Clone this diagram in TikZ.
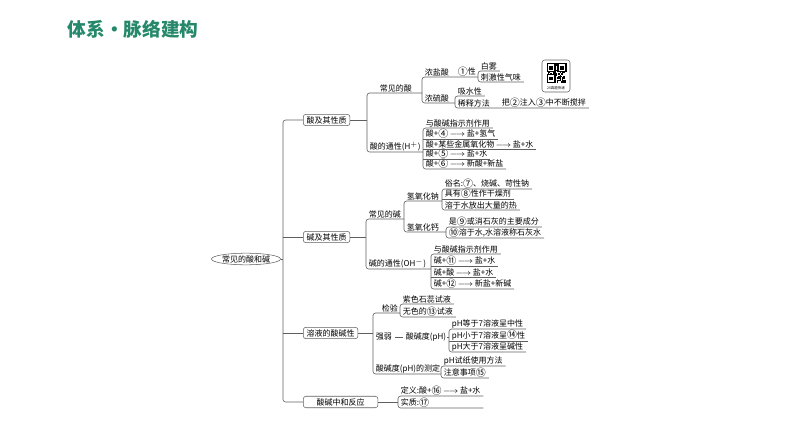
\documentclass[tikz,border=0pt]{standalone}
\usepackage{fontspec}
\setmainfont{Noto Sans CJK SC}
\usetikzlibrary{shapes.geometric,positioning,calc}
\definecolor{titlegreen}{RGB}{38,136,106}
\definecolor{linegray}{RGB}{95,95,95}
\newcommand{\cnum}[1]{\raisebox{-0.12ex}{\scalebox{1.25}{#1}}}

\begin{document}
\begin{tikzpicture}[x=0.75pt, y=-0.75pt,
    topic/.style={draw=linegray, rounded corners=2pt, anchor=west, inner xsep=2.5pt, inner ysep=1.5pt, font=\fontsize{6}{7}\selectfont},
    item/.style={anchor=south west, inner xsep=2pt, inner ysep=0.5pt, font=\fontsize{6}{7}\selectfont},
    link/.style={draw=linegray, line width=0.45pt},
    brace/.style={link, rounded corners=2pt}
]
\useasboundingbox (0,0) rectangle (794,447);

% Title
\node[font=\bfseries\fontsize{14}{16}\selectfont, text=titlegreen, anchor=west] (title) at (63,29) {体系·脉络建构};

% Root and trunk
\node[draw=linegray, ellipse, inner sep=0.3pt, font=\fontsize{6}{7}\selectfont] (root) at (246,259) {常见的酸和碱};
\coordinate (trunk) at (283,259);

% Level one topics
\node[topic] (acid) at (303,120) {酸及其性质};
\node[topic] (base) at (303,237) {碱及其性质};
\node[topic] (sol) at (303,333) {溶液的酸碱性};
\node[topic, minimum width=56pt] (neut) at (303,402) {酸碱中和反应};

\draw[brace] (acid.west) -| (trunk) |- (neut.west);
\draw[link] (root.east) -- (trunk);
\draw[link] (base.west) -- (base.west -| trunk);
\draw[link] (sol.west) -- (sol.west -| trunk);

% Bracket positions
\coordinate (bAcid) at (367,0);
\coordinate (bAcidCom) at (422,0);
\coordinate (bHCl) at (478,0);
\coordinate (bH2SO4) at (455,0);
\coordinate (bAcidGen) at (423,0);
\coordinate (bBase) at (366,0);
\coordinate (bBaseCom) at (404,0);
\coordinate (bNaOH) at (442,0);
\coordinate (bCaOH) at (446,0);
\coordinate (bBaseGen) at (431,0);
\coordinate (bSol) at (373,0);
\coordinate (bTest) at (400,0);
\coordinate (bPH) at (447,0);
\coordinate (bMeas) at (441,0);
\coordinate (bNeut) at (398,0);

% Acids
\node[item] (acidcom) at (377,93) {常见的酸};
\node[item] (acidgen) at (367,152) {酸的通性(H$^{+}$)};
\draw[link] (acid.east) -- (acid.east -| bAcid);
\draw[brace] (acidcom.south west -| bAcidCom) -- (acidcom.south west -| bAcid) -- (acidgen.south west) -- (acidgen.south west -| bAcidGen);

% Common acids
\node[item] (hcl) at (422,77) {浓盐酸};
\node[item] (hclprop) at (455,77) {\cnum{①}性};
\node[item] (h2so4) at (422,103) {浓硫酸};
\draw[brace] (hclprop.south east -| bHCl) -- (hcl.south west) -- (h2so4.south west) -- (h2so4.south west -| bH2SO4);

\node[item] (mist) at (478,71) {白雾};
\node[item] (smell) at (478,82) {刺激性气味};
\draw[brace] (mist.south east) -- (mist.south west) -- (smell.south west) -- (smell.south east);

\node[item] (absorb) at (455,96) {吸水性};
\node[item] (dilute) at (455,108) {稀释方法};
\node[item] (diluteway) at (499,108) {把\cnum{②}注入\cnum{③}中不断搅拌};
\draw[brace] (absorb.south east) -- (absorb.south west) -- (dilute.south west) -- (diluteway.south east);

% QR code
\node[draw=linegray, rounded corners=2pt, minimum width=21pt, minimum height=24pt, inner sep=0pt] (qr) at (556,76) {};
\pgfmathsetseed{12}
\foreach \i in {0,...,14}{
  \foreach \j in {0,...,14}{
    \pgfmathsetmacro{\qrbit}{rnd}
    \ifdim\qrbit pt>0.5pt \fill (546.5+\i*1.3,63+\j*1.3) rectangle ++(1.3,1.3); \fi
  }
}
\foreach \cx/\cy in {546.5/63, 557.4/63, 546.5/73.9}{
  \fill (\cx,\cy) rectangle ++(9.1,9.1);
  \fill[white] (\cx+1.3,\cy+1.3) rectangle ++(6.5,6.5);
  \fill (\cx+2.6,\cy+2.6) rectangle ++(3.9,3.9);
}
\node[font=\fontsize{2.6}{3}\selectfont, inner sep=0pt] (qrlabel) at (556,88) {25真题快递};

% Acid general properties
\node[item] (aind) at (423,128) {与酸碱指示剂作用};
\node[item] (ametal) at (423,139) {酸+\cnum{④}\,$\longrightarrow$\,盐+氢气};
\node[item] (aoxide) at (423,149) {酸+某些金属氧化物\,$\longrightarrow$\,盐+水};
\node[item] (abase) at (423,159) {酸+\cnum{⑤}\,$\longrightarrow$\,盐+水};
\node[item] (asalt) at (423,169) {酸+\cnum{⑥}\,$\longrightarrow$\,新酸+新盐};
\draw[brace] (aind.south east) -- (aind.south west) -- (asalt.south west) -- (asalt.south east);
\draw[link] (ametal.south west) -- (ametal.south east);
\draw[link] (aoxide.south west) -- (aoxide.south east);
\draw[link] (abase.south west) -- (abase.south east);

% Bases
\node[item] (basecom) at (366,219) {常见的碱};
\node[item] (basegen) at (366,269) {碱的通性(OH$^{-}$)};
\draw[link] (base.east) -- (base.east -| bBase);
\draw[brace] (basecom.south west -| bBaseCom) -- (basecom.south west) -- (basegen.south west) -- (basegen.south west -| bBaseGen);

% Common bases
\node[item] (naoh) at (404,201) {氢氧化钠};
\node[item] (caoh) at (404,232) {氢氧化钙};
\draw[brace] (naoh.south west -| bNaOH) -- (naoh.south west) -- (caoh.south west) -- (caoh.south west -| bCaOH);

\node[item] (naname) at (442,189) {俗名:\cnum{⑦}、烧碱、苛性钠};
\node[item] (nadry) at (442,199) {具有\cnum{⑧}性作干燥剂};
\node[item] (naheat) at (442,210) {溶于水放出大量的热};
\draw[brace] (naname.south east) -- (naname.south west) -- (naheat.south west) -- (naheat.south east);
\draw[link] (nadry.south west) -- (nadry.south east);

\node[item] (caname) at (446,227) {是\cnum{⑨}或消石灰的主要成分};
\node[item] (casol) at (446,238) {\cnum{⑩}溶于水,水溶液称石灰水};
\draw[brace] (caname.south east) -- (caname.south west) -- (casol.south west) -- (casol.south east);

% Base general properties
\node[item] (bind) at (431,254) {与酸碱指示剂作用};
\node[item] (boxide) at (431,266) {碱+\cnum{⑪}\,$\longrightarrow$\,盐+水};
\node[item] (bacid) at (431,277) {碱+酸\,$\longrightarrow$\,盐+水};
\node[item] (bsalt) at (431,289) {碱+\cnum{⑫}\,$\longrightarrow$\,新盐+新碱};
\draw[brace] (bind.south east) -- (bind.south west) -- (bsalt.south west) -- (bsalt.south east);
\draw[link] (boxide.south west) -- (boxide.south east);
\draw[link] (bacid.south west) -- (bacid.south east);

% Acidity of solutions
\node[item] (test) at (379,313) {检验};
\node[item, anchor=west] (strength) at (373,337) {强弱};
\node[item, anchor=west] (acidity) at (403,337) {酸碱度(pH)};
\node[item] (meas) at (373,374) {酸碱度(pH)的测定};
\draw[link] (sol.east) -- (sol.east -| bSol);
\draw[brace] (test.south west -| bTest) -- (test.south west -| bSol) -- (meas.south west) -- (meas.south west -| bMeas);
\draw[link] (strength.east) -- (acidity.west);
\draw[link] (acidity.east) -- (acidity.east -| bPH);

\node[item] (litmus) at (400,304) {紫色石蕊试液};
\node[item] (phenol) at (400,317) {无色的\cnum{⑬}试液};
\draw[brace] (litmus.south east) -- (litmus.south west) -- (phenol.south west) -- (phenol.south east);

\coordinate (bPH) at (449,0);
\node[item] (neutral) at (449,329) {pH等于7溶液呈中性};
\node[item] (acidic) at (449,341) {pH小于7溶液呈\cnum{⑭}性};
\node[item] (alkaline) at (449,352) {pH大于7溶液呈碱性};
\draw[brace] (neutral.south east) -- (neutral.south west) -- (alkaline.south west) -- (alkaline.south east);
\draw[link] (acidic.south west) -- (acidic.south east);

\node[item] (paper) at (441,366) {pH试纸使用方法};
\node[item] (notice) at (441,378) {注意事项\cnum{⑮}};
\draw[brace] (paper.south east) -- (paper.south west) -- (notice.south west) -- (notice.south east);

% Neutralization
\node[item] (defn) at (398,396) {定义:酸+\cnum{⑯}\,$\longrightarrow$\,盐+水};
\node[item] (essence) at (398,408) {实质:\cnum{⑰}};
\draw[link] (neut.east) -- (neut.east -| bNeut);
\draw[brace] (defn.south east) -- (defn.south west) -- (essence.south west) -- (essence.south west -| defn.south east);

\end{tikzpicture}
\end{document}
